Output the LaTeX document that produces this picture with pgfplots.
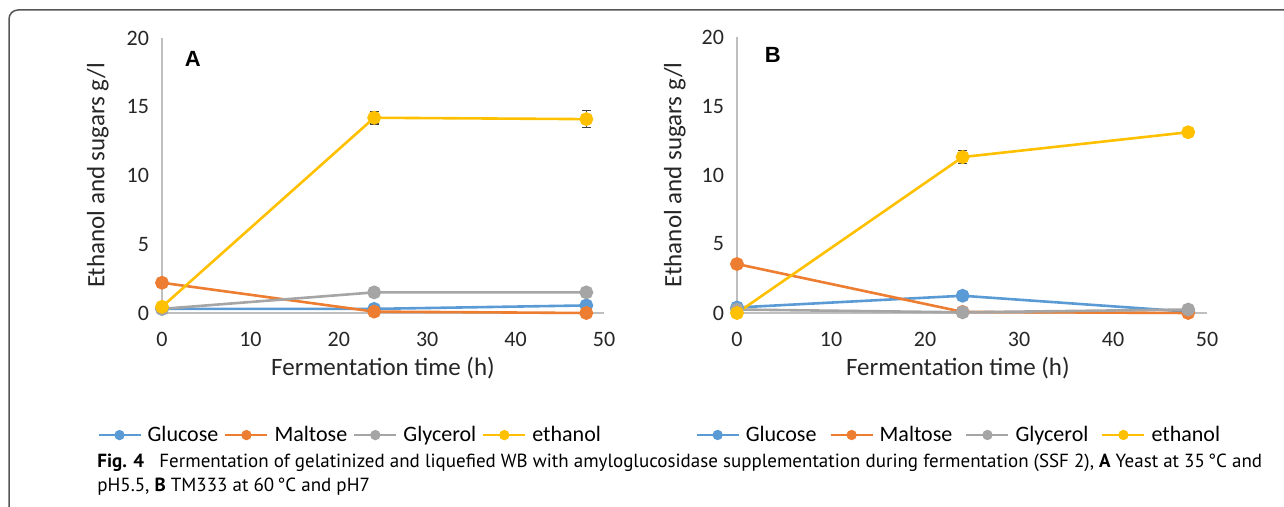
\documentclass[border=0pt]{standalone}
\usepackage{pgfplots}
\pgfplotsset{compat=1.18}
\usepackage{fontspec}
\setmainfont{Carlito}
\newfontfamily\capfont{PT Sans}
\newfontfamily\letfont{Liberation Sans}

\definecolor{cGlu}{HTML}{5B9BD5}
\definecolor{cMal}{HTML}{ED7D31}
\definecolor{cGly}{HTML}{A5A5A5}
\definecolor{cEth}{HTML}{FFC000}
\definecolor{axgray}{HTML}{BFBFBF}
\definecolor{frame}{HTML}{555555}

\newcommand\labfont{\fontsize{12.5bp}{15bp}\selectfont}

\pgfplotsset{
  panel/.style={
    scale only axis, clip=false,
    xmin=0, xmax=50, ymin=0, ymax=20,
    xtick={0,10,...,50}, ytick={0,5,...,20},
    axis lines*=left,
    axis line style={draw=axgray, line width=0.75bp},
    major tick length=0pt, tick style={draw=none},
    /pgf/number format/assume math mode=true,
    tick label style={font=\fontsize{11bp}{13bp}\selectfont, text=black!85},
    xticklabel style={yshift=-6bp},
    yticklabel style={xshift=-3bp},
    xlabel={Fermentation time (h)},
    ylabel={Ethanol and sugars g/l},
    every axis x label/.style={at={(axis description cs:0.5,-0.2)}, anchor=center, font=\labfont, text=black!85},
    every axis y label/.style={at={(axis description cs:-0.145,0.5)}, anchor=center, rotate=90, font=\labfont, text=black!85},
    every axis plot/.append style={line width=1.3bp, mark=*, mark size=2.8bp},
    legend columns=4,
    legend style={draw=none, fill=none, inner sep=0pt, anchor=west,
      font=\fontsize{11bp}{13bp}\selectfont,
      /tikz/every odd column/.append style={column sep=1bp},
      /tikz/every even column/.append style={column sep=1bp}},
    legend image code/.code={\draw[mark repeat=2,mark phase=2,mark size=2bp,line width=1.1bp]
      plot coordinates {(0bp,0bp) (10.5bp,0bp) (21bp,0bp)};},
  },
  errs/.style={draw=none, mark=none, forget plot,
    error bars/.cd, y dir=both, y explicit,
    error bar style={black!75, line width=0.6bp},
    error mark options={rotate=90, mark size=2.2bp, black!75, line width=0.6bp}},
}

\begin{document}
\begin{tikzpicture}
\path[use as bounding box] (0,0) rectangle (642bp,253.5bp);
\draw[frame, line width=0.75bp] (4.5bp,0) -- (4.5bp,244bp) arc[start angle=180,end angle=90,radius=4.5bp] -- (642bp,248.5bp);

% panel A
\begin{axis}[panel, at={(81bp,97bp)}, anchor=south west, width=221bp, height=137.5bp,
  legend style={at={(axis description cs:-0.147,-0.444)}}]
\addplot[cGlu] coordinates {(0,0.3) (24,0.3) (48,0.55)};
\addplot[cMal] coordinates {(0,2.2) (24,0.1) (48,0.0)};
\addplot[cGly] coordinates {(0,0.3) (24,1.5) (48,1.5)};
\addplot[cEth] coordinates {(0,0.45) (24,14.2) (48,14.1)};
\addplot[errs] coordinates {(24,14.2) +- (0,0.45) (48,14.1) +- (0,0.6)};
\legend{Glucose,Maltose,Glycerol,ethanol}
\node[font=\letfont\bfseries\fontsize{11bp}{13bp}\selectfont] at (axis cs:3.5,18.5) {A};
\end{axis}

% panel B
\begin{axis}[panel, at={(368.5bp,97bp)}, anchor=south west, width=235bp, height=138bp,
  every axis y label/.style={at={(axis description cs:-0.132,0.5)}, anchor=center, rotate=90, font=\labfont, text=black!85},
  every axis x label/.style={at={(axis description cs:0.47,-0.2)}, anchor=center, font=\labfont, text=black!85},
  legend style={at={(axis description cs:-0.089,-0.442)},
    /tikz/every even column/.append style={column sep=4.5bp}}]
\addplot[cGlu] coordinates {(0,0.4) (24,1.25) (48,0.1)};
\addplot[cMal] coordinates {(0,3.55) (24,0.08) (48,0.0)};
\addplot[cGly] coordinates {(0,0.25) (24,0.05) (48,0.25)};
\addplot[cEth] coordinates {(0,0.0) (24,11.3) (48,13.1)};
\addplot[errs] coordinates {(24,11.3) +- (0,0.45) (48,13.1) +- (0,0.08)};
\legend{Glucose,Maltose,Glycerol,ethanol}
\node[font=\letfont\bfseries\fontsize{11bp}{13bp}\selectfont] at (axis cs:3.8,18.7) {B};
\end{axis}

% caption
\node[anchor=base west, inner sep=0pt, font=\capfont\fontsize{9.5bp}{11bp}\selectfont] at (48.5bp,20bp)
  {\textbf{Fig. 4}\hspace{0.8em}Fermentation of gelatinized and liquefied WB with amyloglucosidase supplementation during fermentation (SSF 2), \textbf{A} Yeast at 35\,°C and};
\node[anchor=base west, inner sep=0pt, font=\capfont\fontsize{9.5bp}{11bp}\selectfont] at (48.5bp,8bp)
  {pH5.5, \textbf{B} TM333 at 60\,°C and pH7};
\end{tikzpicture}
\end{document}
